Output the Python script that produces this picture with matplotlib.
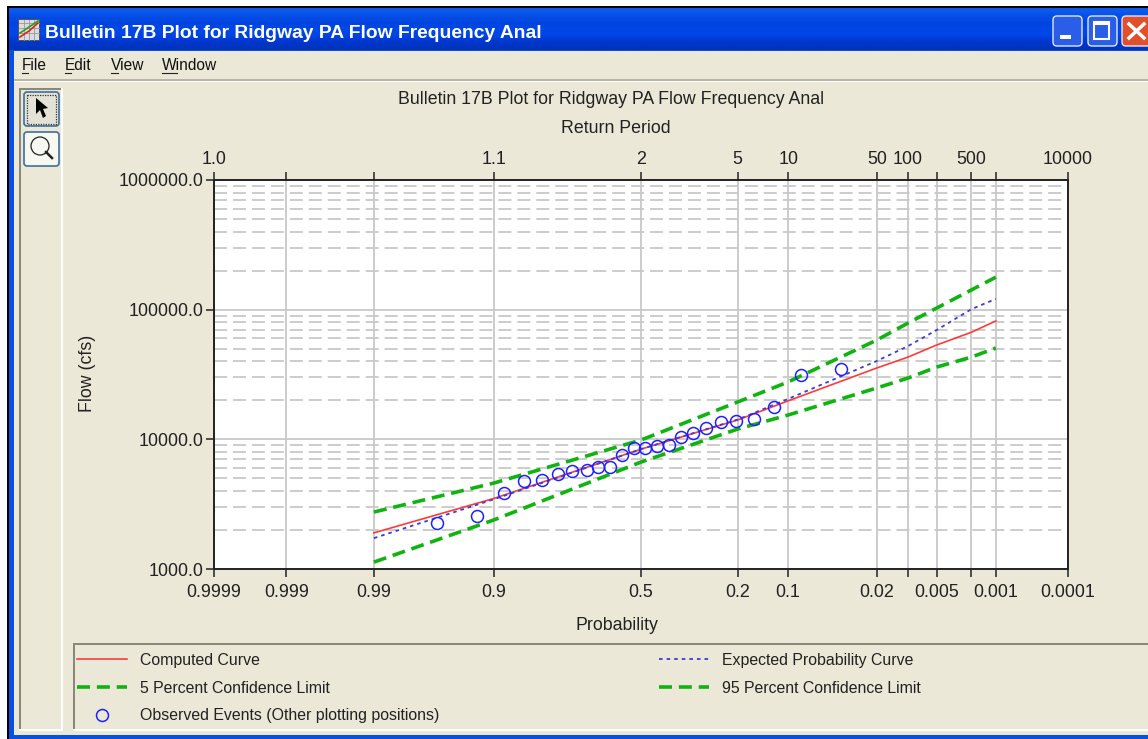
from statistics import NormalDist

import numpy as np
import matplotlib
matplotlib.use('Agg')
import matplotlib.pyplot as plt
import matplotlib.ticker as mticker
from matplotlib.patches import Rectangle, FancyBboxPatch, Polygon, Circle

plt.rcParams['font.family'] = ['Liberation Sans', 'DejaVu Sans']

WINDOW_TITLE = 'Bulletin 17B Plot for Ridgway PA Flow Frequency Anal'
PLOT_TITLE = 'Bulletin 17B Plot for Ridgway PA Flow Frequency Anal'
MENU_ITEMS = ['File', 'Edit', 'View', 'Window']

# exceedance probability, bottom axis
prob_ticks = [0.9999, 0.999, 0.99, 0.9, 0.5, 0.2, 0.1, 0.02, 0.01, 0.005, 0.002, 0.001, 0.0001]
prob_labels = ['0.9999', '0.999', '0.99', '0.9', '0.5', '0.2', '0.1', '0.02', '', '0.005', '', '0.001', '0.0001']
# return period, top axis (same tick places)
period_labels = ['1.0', '', '', '1.1', '2', '5', '10', '50', '100', '', '500', '', '10000']

flow_ticks = [1000, 10000, 100000, 1000000]
flow_labels = ['1000.0', '10000.0', '100000.0', '1000000.0']

curve_prob = [0.99, 0.9, 0.5, 0.2, 0.1, 0.02, 0.01, 0.005, 0.002, 0.001]
computed = [1900, 3500, 8400, 14100, 19800, 35500, 43100, 53400, 67000, 81800]
expected = [1730, 3450, 8400, 14200, 20500, 40200, 52400, 69700, 101000, 121000]
upper_5 = [2750, 4600, 9880, 19400, 27700, 58300, 78900, 103000, 142000, 178000]
lower_95 = [1130, 2390, 6680, 12000, 15400, 24900, 29700, 36100, 43100, 50600]

obs_prob = [0.962, 0.924, 0.884, 0.845, 0.805, 0.765, 0.725, 0.68, 0.645, 0.605, 0.565, 0.525,
            0.485, 0.443, 0.405, 0.363, 0.325, 0.285, 0.243, 0.205, 0.163, 0.123, 0.082, 0.041]
obs_flow = [2263, 2563, 3855, 4770, 4857, 5403, 5698, 5800, 6117, 6117, 7573, 8574,
            8574, 8884, 9044, 10420, 11190, 12230, 13600, 13850, 14350, 17760, 31340, 34860]

BEIGE = '#ebe8d8'
GRID = '#c8c8c8'
W, H = 1148, 739


def to_z(p):
    p = np.clip(np.asarray(p, dtype=float), 1e-7, 1 - 1e-7)
    return np.vectorize(NormalDist().inv_cdf, otypes=[float])(p)


def from_z(z):
    return np.vectorize(NormalDist().cdf, otypes=[float])(np.asarray(z, dtype=float))


fig = plt.figure(figsize=(W / 100, H / 100), dpi=100, facecolor='white')

# window chrome, in pixel coordinates
bg = fig.add_axes([0, 0, 1, 1], zorder=0)
bg.set_xlim(0, W)
bg.set_ylim(H, 0)
bg.axis('off')


def box(x, y, w, h, color, **kw):
    bg.add_patch(Rectangle((x, y), w, h, facecolor=color, edgecolor='none', **kw))


box(7, 6, W - 7, H - 6, '#000000')
box(9, 8, W - 9, H - 8, '#0a50e0')
box(14, 51, W - 14, 684, BEIGE)
grad = np.array([[0.05, 0.35, 0.92], [0.02, 0.30, 0.90], [0.0, 0.27, 0.88], [0.0, 0.28, 0.90],
                 [0.0, 0.27, 0.90], [0.0, 0.22, 0.82], [0.0, 0.2, 0.75]]).reshape(-1, 1, 3)
bg.imshow(grad, extent=(9, W, 50, 8), aspect='auto', interpolation='bilinear', zorder=1)
bg.set_xlim(0, W)
bg.set_ylim(H, 0)

# icon in the title bar
box(18, 19, 22, 22, '#555555', zorder=2)
box(19, 20, 20, 20, '#dcdcdc', zorder=2)
for gx in [24, 29, 34]:
    bg.plot([gx, gx], [20, 40], color='#999999', lw=0.6, zorder=2)
    bg.plot([19, 39], [gx - 1, gx - 1], color='#999999', lw=0.6, zorder=2)
bg.plot([20, 29, 38], [37, 31, 23], color='#e02020', lw=1.2, zorder=3)
bg.plot([20, 29, 38], [33, 27, 21], color='#20a020', lw=1.2, zorder=3)
bg.text(45, 33, WINDOW_TITLE, color='white', fontsize=13.9, fontweight='bold',
        va='center', ha='left', zorder=3)

# title bar buttons
for bx, col in [(1053, '#2a5ee8'), (1088, '#2a5ee8'), (1122, '#e0502a')]:
    bg.add_patch(FancyBboxPatch((bx + 2, 18), 25, 26, boxstyle='round,pad=2,rounding_size=4',
                                facecolor=col, edgecolor='#dfe8ff', lw=1, zorder=3))
box(1060, 35, 11, 4, 'white', zorder=4)
bg.add_patch(Rectangle((1094, 22), 15, 17, facecolor='none', edgecolor='white', lw=1.5, zorder=4))
box(1094, 22, 15, 3, 'white', zorder=4)
bg.plot([1129, 1144], [24, 38], color='white', lw=2.5, zorder=4)
bg.plot([1144, 1129], [24, 38], color='white', lw=2.5, zorder=4)

# menu bar
for name, mx in zip(MENU_ITEMS, [22, 65, 111, 162]):
    bg.text(mx, 65, name, fontsize=11.2, color='#111111', va='center', ha='left', zorder=3)
bg.plot([22, 28], [73, 73], color='#222222', lw=0.8, zorder=3)
bg.plot([65, 71], [73, 73], color='#222222', lw=0.8, zorder=3)
bg.plot([111, 118], [73, 73], color='#222222', lw=0.8, zorder=3)
bg.plot([162, 177], [73, 73], color='#222222', lw=0.8, zorder=3)
box(14, 79, W - 14, 1.5, '#b8b5a5', zorder=2)
box(14, 80.5, W - 14, 1, '#ffffff', zorder=2)

# tool panel on the left
box(19, 88, 2, 642, '#8a8878', zorder=2)
box(19, 88, 44, 2, '#8a8878', zorder=2)
box(61, 88, 2, 642, '#ffffff', zorder=2)
box(19, 729, 44, 2, '#ffffff', zorder=2)
for by, col in [(92, '#e4e2d6'), (132, '#f8f8f2')]:
    bg.add_patch(FancyBboxPatch((26, by + 2), 31, 30, boxstyle='round,pad=2,rounding_size=3',
                                facecolor=col, edgecolor='#3f6f9f', lw=1.2, zorder=3))
bg.add_patch(Rectangle((27, 95), 29, 29, facecolor='none', edgecolor='#333333',
                       lw=0.9, ls=(0, (1, 1)), zorder=4))
bg.add_patch(Polygon([(36, 98), (36, 114), (40, 110), (43, 118), (46, 116), (43, 109), (48, 108)],
                     closed=True, facecolor='black', edgecolor='none', zorder=4))
bg.add_patch(Circle((40, 146), 9, facecolor='none', edgecolor='#222222', lw=0.9, zorder=4))
bg.plot([46, 52], [152, 158], color='#222222', lw=1.8, zorder=4)

# legend panel
box(73, 643, W - 73, 2, '#8a8878', zorder=2)
box(73, 643, 2, 88, '#8a8878', zorder=2)
box(73, 729, W - 73, 2, '#ffffff', zorder=2)

bg.text(611, 99.5, PLOT_TITLE, fontsize=12.8, color='#222222', ha='center', va='center', zorder=3)
bg.text(616, 128.5, 'Return Period', fontsize=12.8, color='#222222', ha='center', va='center', zorder=3)
bg.text(617, 625.5, 'Probability', fontsize=12.8, color='#222222', ha='center', va='center', zorder=3)
bg.text(88, 373, 'Flow (cfs)', fontsize=12.8, color='#222222', ha='center', va='center',
        rotation=90, zorder=3)

# plot area
left, right, top, bottom = 214, 1068, 180, 569
ax = fig.add_axes([left / W, 1 - bottom / H, (right - left) / W, (bottom - top) / H], zorder=2)
ax.set_xscale('function', functions=(to_z, from_z))
ax.set_yscale('log')
ax.set_xlim(0.9999, 0.0001)
ax.set_ylim(1000, 1000000)
ax.set_facecolor('white')

ax.set_xticks(prob_ticks)
ax.set_xticklabels(prob_labels)
ax.set_yticks(flow_ticks)
ax.set_yticklabels(flow_labels)
ax.yaxis.set_minor_locator(mticker.LogLocator(base=10, subs=range(2, 10), numticks=12))
ax.yaxis.set_minor_formatter(mticker.NullFormatter())
ax.tick_params(axis='y', which='minor', length=0)
ax.tick_params(axis='both', which='major', length=5.5, width=1.1, color='#222222',
               labelsize=12.9, labelcolor='#222222', pad=5)
ax.tick_params(axis='y', which='major', pad=2)
ax.grid(True, which='major', color=GRID, lw=1.3, zorder=1)
ax.grid(True, which='minor', axis='y', color=GRID, lw=1.3, ls=(0, (7.2, 3.3)), zorder=1)
ax.set_axisbelow(True)
for s in ax.spines.values():
    s.set_linewidth(1.2)
    s.set_color('#222222')

ax_top = ax.twiny()
ax_top.set_xscale('function', functions=(to_z, from_z))
ax_top.set_xlim(0.9999, 0.0001)
ax_top.set_xticks(prob_ticks)
ax_top.set_xticklabels(period_labels)
ax_top.tick_params(axis='x', length=5.5, width=1.1, color='#222222', labelsize=12.9,
                   labelcolor='#222222', pad=3)
for s in ax_top.spines.values():
    s.set_linewidth(1.2)
    s.set_color('#222222')

l1, = ax.plot(curve_prob, computed, color='#ff3a3a', lw=1.2, label='Computed Curve', zorder=3)
l2, = ax.plot(curve_prob, expected, color='#3c3cd8', lw=1.3, ls=(0, (2, 2.2)),
              label='Expected Probability Curve', zorder=3)
l3, = ax.plot(curve_prob, upper_5, color='#10b410', lw=2.6, ls=(0, (3.6, 1.9)),
              label='5 Percent Confidence Limit', zorder=4)
l4, = ax.plot(curve_prob, lower_95, color='#10b410', lw=2.6, ls=(0, (3.6, 1.9)),
              label='95 Percent Confidence Limit', zorder=4)
l5, = ax.plot(obs_prob, obs_flow, ls='none', marker='o', ms=8.6, mfc='none', mec='#2020ff',
              mew=1.1, label='Observed Events (Other plotting positions)', zorder=5)

leg = fig.legend(handles=[l1, l3, l5, l2, l4], ncol=2, loc='upper left',
                 bbox_to_anchor=(77 / W, 1 - 653 / H), frameon=False, fontsize=11.4,
                 labelcolor='#222222', handlelength=3.16, handletextpad=0.84,
                 labelspacing=0.8, columnspacing=13.85, borderpad=0, borderaxespad=0,
                 numpoints=1)

fig.savefig('out.png', dpi=100)
